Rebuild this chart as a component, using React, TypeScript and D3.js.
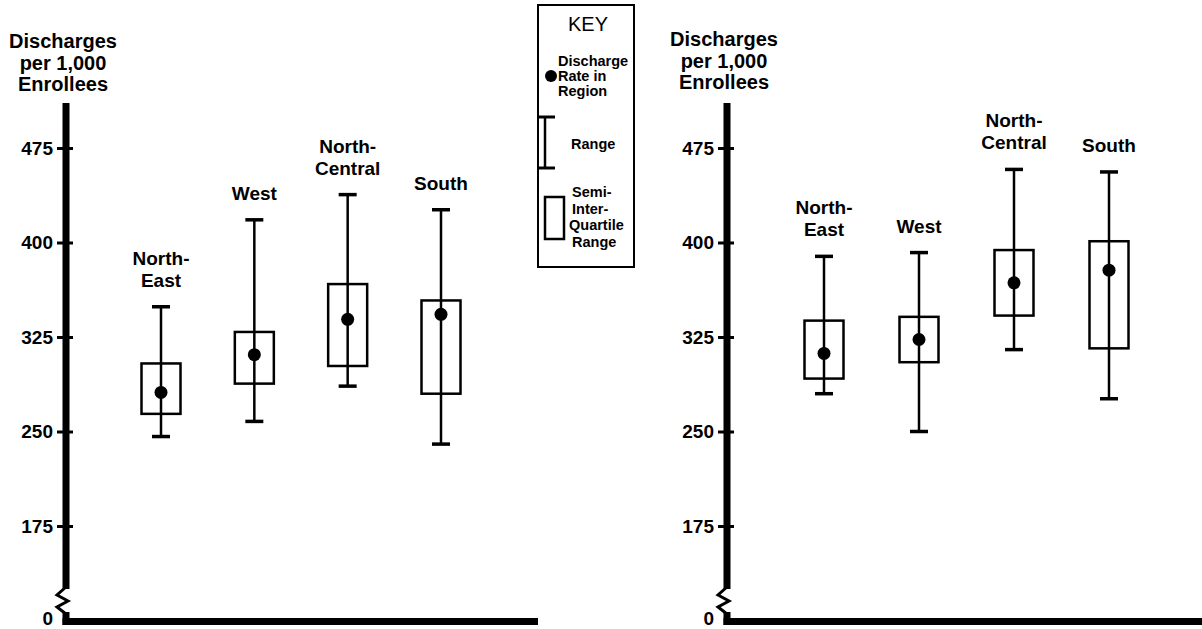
import React, { useEffect, useRef } from "react";
import * as d3 from "d3";

// ---- data ----
const CATEGORIES = ["North-East", "West", "North-Central", "South"];
const CATEGORY_LABEL_LINES = [["North-", "East"], ["West"], ["North-", "Central"], ["South"]];
const AXIS_TITLE_LINES = ["Discharges", "per 1,000", "Enrollees"];
const TICK_VALUES = [0, 175, 250, 325, 400, 475];
const TICK_LABELS = ["0", "175", "250", "325", "400", "475"];

// Left panel
const LEFT_MIN = [246, 258, 286, 240];
const LEFT_Q1 = [264, 288, 302, 280];
const LEFT_RATE = [281, 311, 339, 343];
const LEFT_Q3 = [304, 329, 367, 354];
const LEFT_MAX = [349, 418, 438, 426];

// Right panel
const RIGHT_MIN = [280, 250, 315, 276];
const RIGHT_Q1 = [292, 305, 342, 316];
const RIGHT_RATE = [312, 323, 368, 378];
const RIGHT_Q3 = [338, 341, 394, 401];
const RIGHT_MAX = [389, 392, 458, 456];

// Key
const KEY_TITLE = "KEY";
const KEY_RATE_LINES = ["Discharge", "Rate in", "Region"];
const KEY_RANGE_LABEL = "Range";
const KEY_SIQR_LINES = ["Semi-", "Inter-", "Quartile", "Range"];

const FONT = "'Liberation Sans', Arial, Helvetica, sans-serif";

export default function App() {
  const ref = useRef<SVGSVGElement | null>(null);

  useEffect(() => {
    const svg = d3.select(ref.current);
    svg.selectAll("*").remove();

    const y = d3.scaleLinear().domain([0, 175, 475]).range([621, 526, 148]);

    const panels = [
      {
        axisX: 66, xEnd: 538, catRange: [161, 441], titleY: 48,
        min: LEFT_MIN, q1: LEFT_Q1, rate: LEFT_RATE, q3: LEFT_Q3, max: LEFT_MAX,
      },
      {
        axisX: 727, xEnd: 1202, catRange: [824, 1109], titleY: 46,
        min: RIGHT_MIN, q1: RIGHT_Q1, rate: RIGHT_RATE, q3: RIGHT_Q3, max: RIGHT_MAX,
      },
    ];

    panels.forEach((p) => {
      const g = svg.append("g");
      const x = d3.scalePoint<string>().domain(CATEGORIES).range(p.catRange as [number, number]);

      // axis title
      const t = g.append("text")
        .attr("text-anchor", "middle")
        .attr("font-family", FONT)
        .attr("font-weight", "bold")
        .attr("font-size", 20);
      AXIS_TITLE_LINES.forEach((l, i) =>
        t.append("tspan").attr("x", p.axisX - 3).attr("y", p.titleY + i * 21.5).text(l)
      );

      // vertical axis line with break
      g.append("line")
        .attr("x1", p.axisX).attr("x2", p.axisX)
        .attr("y1", 103).attr("y2", 589)
        .attr("stroke", "#000").attr("stroke-width", 7);
      g.append("path")
        .attr("d", `M${p.axisX},587 L${p.axisX - 9},595 L${p.axisX + 2},601 L${p.axisX - 9},607 L${p.axisX},614`)
        .attr("fill", "none").attr("stroke", "#000").attr("stroke-width", 3);
      g.append("line")
        .attr("x1", p.axisX).attr("x2", p.axisX)
        .attr("y1", 612).attr("y2", 625)
        .attr("stroke", "#000").attr("stroke-width", 7);

      // baseline
      g.append("rect")
        .attr("x", p.axisX - 3.5).attr("y", y(0) - 3)
        .attr("width", p.xEnd - p.axisX + 3.5).attr("height", 7)
        .attr("fill", "#000");

      // ticks
      const axis = d3.axisLeft(y)
        .tickValues(TICK_VALUES)
        .tickFormat((d, i) => TICK_LABELS[i])
        .tickSize(9)
        .tickPadding(5);
      const ag = g.append("g").attr("transform", `translate(${p.axisX},0)`).call(axis);
      ag.select(".domain").remove();
      ag.selectAll(".tick line")
        .attr("x1", -9).attr("x2", 7)
        .attr("stroke", "#000").attr("stroke-width", 3)
        .filter((d: any) => d === 0).remove();
      ag.selectAll(".tick text")
        .attr("font-family", FONT)
        .attr("font-weight", "bold")
        .attr("font-size", 19)
        .attr("fill", "#000")
        .attr("x", -13)
        .filter((d: any) => d === 0)
        .attr("dy", "0.2em");
      ag.attr("font-family", null).attr("font-size", null);

      // boxes
      CATEGORIES.forEach((c, i) => {
        const cx = x(c) as number;
        const bw = 39;
        const capW = 18;
        // whisker
        g.append("line")
          .attr("x1", cx).attr("x2", cx)
          .attr("y1", y(p.max[i])).attr("y2", y(p.min[i]))
          .attr("stroke", "#000").attr("stroke-width", 2.5);
        [p.max[i], p.min[i]].forEach((v) =>
          g.append("line")
            .attr("x1", cx - capW / 2).attr("x2", cx + capW / 2)
            .attr("y1", y(v)).attr("y2", y(v))
            .attr("stroke", "#000").attr("stroke-width", 3.5)
        );
        // box
        g.append("rect")
          .attr("x", cx - bw / 2).attr("width", bw)
          .attr("y", y(p.q3[i])).attr("height", y(p.q1[i]) - y(p.q3[i]))
          .attr("fill", "none").attr("stroke", "#000").attr("stroke-width", 2.5);
        // rate dot
        g.append("circle")
          .attr("cx", cx).attr("cy", y(p.rate[i])).attr("r", 6.5)
          .attr("fill", "#000");
        // label
        const lines = CATEGORY_LABEL_LINES[i];
        const lt = g.append("text")
          .attr("text-anchor", "middle")
          .attr("font-family", FONT)
          .attr("font-weight", "bold")
          .attr("font-size", 19);
        lines.forEach((l, j) =>
          lt.append("tspan")
            .attr("x", cx)
            .attr("y", y(p.max[i]) - 20 - (lines.length - 1 - j) * 22)
            .text(l)
        );
      });
    });

    // ---- key ----
    const k = svg.append("g");
    k.append("rect")
      .attr("x", 538).attr("y", 5).attr("width", 96).attr("height", 262)
      .attr("fill", "#fff").attr("stroke", "#000").attr("stroke-width", 2);
    k.append("text")
      .attr("x", 588).attr("y", 31).attr("text-anchor", "middle")
      .attr("font-family", FONT).attr("font-size", 20).text(KEY_TITLE);
    const small = (xx: number, yy: number, s: string) =>
      k.append("text").attr("x", xx).attr("y", yy)
        .attr("font-family", FONT).attr("font-weight", "bold").attr("font-size", 14.5)
        .text(s);
    KEY_RATE_LINES.forEach((l, i) => small(558, 66 + i * 15, l));
    k.append("circle").attr("cx", 551).attr("cy", 76).attr("r", 6).attr("fill", "#000");
    // range glyph
    k.append("line").attr("x1", 545).attr("x2", 545).attr("y1", 117).attr("y2", 168)
      .attr("stroke", "#000").attr("stroke-width", 2.5);
    [117, 168].forEach((yy) =>
      k.append("line").attr("x1", 539).attr("x2", 555).attr("y1", yy).attr("y2", yy)
        .attr("stroke", "#000").attr("stroke-width", 3)
    );
    small(571, 149, KEY_RANGE_LABEL);
    // semi-interquartile glyph
    k.append("rect").attr("x", 545).attr("y", 197).attr("width", 19).attr("height", 42)
      .attr("fill", "none").attr("stroke", "#000").attr("stroke-width", 2.5);
    KEY_SIQR_LINES.forEach((l, i) => small(i === 2 ? 569 : 572, 197 + i * 16.5, l));
  }, []);

  return (
    <svg
      ref={ref}
      width={1202}
      height={629}
      style={{ position: "absolute", left: 0, top: 0, background: "#fff" }}
    />
  );
}
